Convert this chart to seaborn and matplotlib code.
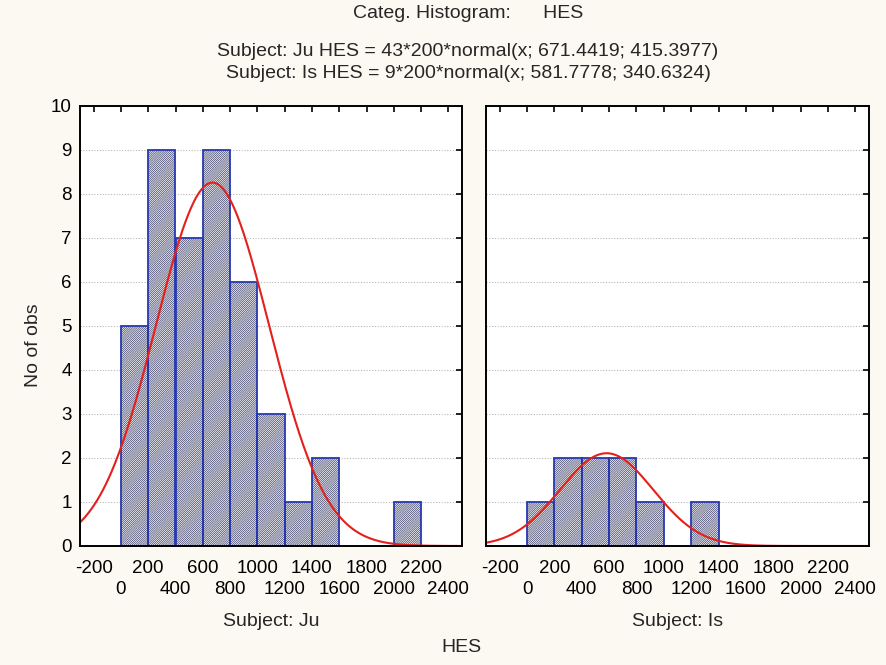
# -*- coding: utf-8 -*-
"""
    Categorized histogram of HES by subject, with fitted normal curves
"""

import numpy as np
import pandas as pd
import matplotlib
matplotlib.use("Agg")
import matplotlib.pyplot as plt
import seaborn as sns

# bin edges (width 200) and counts
bin_left = [0, 200, 400, 600, 800, 1000, 1200, 1400, 1600, 1800, 2000]
counts_ju = [5, 9, 7, 9, 6, 3, 1, 2, 0, 0, 1]
counts_is = [1, 2, 2, 2, 1, 0, 1, 0, 0, 0, 0]

# normal fit parameters from the chart subtitle: n, mean, sd
fit_ju = (43, 671.4419, 415.3977)
fit_is = (9, 581.7778, 340.6324)

# staggered x labels: upper row and lower row
xticks_top_row = [-200, 200, 600, 1000, 1400, 1800, 2200]
xticks_low_row = [0, 400, 800, 1200, 1600, 2000, 2400]
yticks = list(range(0, 11))

BG = "#fcf9f2"
EDGE = "#2638b0"
HATCH = "#3a3d66"
RED = "#e3201c"
FS = 13.5

sns.set_style("white")
plt.rcParams["font.family"] = ["Liberation Sans", "DejaVu Sans"]
plt.rcParams["hatch.linewidth"] = 0.5


def draw_panel(ax, counts, fit, show_ylabels):
    df = pd.DataFrame({"x": [b + 100 for b in bin_left], "n": counts})
    edges = bin_left + [bin_left[-1] + 200]

    # hatched fill first, then the blue outline on top
    sns.histplot(data=df, x="x", weights="n", bins=edges, ax=ax,
                 color="white", edgecolor=HATCH, linewidth=0, alpha=1,
                 hatch="/" * 16, zorder=2)
    sns.histplot(data=df, x="x", weights="n", bins=edges, ax=ax,
                 fill=False, color=EDGE, edgecolor=EDGE, linewidth=1.3, zorder=3)
    # empty bins would leave a line on the baseline
    for p in ax.patches:
        if p.get_height() == 0:
            p.set_visible(False)

    n, mu, sd = fit
    xs = np.linspace(-300, 2500, 400)
    ys = n * 200 * np.exp(-0.5 * ((xs - mu) / sd) ** 2) / (sd * np.sqrt(2 * np.pi))
    sns.lineplot(x=xs, y=ys, ax=ax, color=RED, linewidth=1.5, zorder=4)

    ax.set_xlim(-300, 2500)
    ax.set_ylim(0, 10)
    ax.set_facecolor("white")
    ax.set_xticks(xticks_top_row)
    ax.set_xticklabels([str(t) for t in xticks_top_row])
    ax.set_xticks(xticks_low_row, minor=True)
    ax.set_xticklabels([str(t) for t in xticks_low_row], minor=True)
    ax.set_yticks(yticks)
    if not show_ylabels:
        ax.set_yticklabels([])
    ax.set_xlabel("")
    ax.set_ylabel("")
    ax.tick_params(which="both", direction="in", length=4, width=1.2, top=True, right=True,
                   labelsize=FS, colors="black")
    ax.tick_params(axis="x", which="major", pad=10)
    ax.tick_params(axis="x", which="minor", pad=25)
    ax.tick_params(axis="y", pad=6)
    ax.yaxis.grid(True, linestyle=(0, (1, 1.5)), color="#b8b8b8", linewidth=0.8, zorder=0)
    ax.set_axisbelow(True)
    for s in ax.spines.values():
        s.set_color("black")
        s.set_linewidth(1.4)
        s.set_zorder(5)


fig = plt.figure(figsize=(8.86, 6.65), dpi=100, facecolor=BG)
ax1 = fig.add_axes([80 / 886, 1 - 546 / 665, 382 / 886, 440 / 665])
ax2 = fig.add_axes([486 / 886, 1 - 546 / 665, 383 / 886, 440 / 665])

draw_panel(ax1, counts_ju, fit_ju, True)
draw_panel(ax2, counts_is, fit_is, False)

cx = 468 / 886
TFS = 14
fig.text(cx, 1 - 13 / 665, "Categ. Histogram:      HES", ha="center", va="center", fontsize=TFS)
fig.text(cx, 1 - 51 / 665, "Subject: Ju HES = 43*200*normal(x; 671.4419; 415.3977)",
         ha="center", va="center", fontsize=TFS)
fig.text(cx, 1 - 74 / 665, "Subject: Is HES = 9*200*normal(x; 581.7778; 340.6324)",
         ha="center", va="center", fontsize=TFS)

fig.text(271 / 886, 1 - 622 / 665, "Subject: Ju", ha="center", va="center", fontsize=TFS)
fig.text(678 / 886, 1 - 622 / 665, "Subject: Is", ha="center", va="center", fontsize=TFS)
fig.text(461 / 886, 1 - 648 / 665, "HES", ha="center", va="center", fontsize=TFS)
fig.text(33 / 886, 1 - 345 / 665, "No of obs", ha="center", va="center", rotation=90, fontsize=TFS)

plt.savefig("out.png", dpi=100, facecolor=BG)
